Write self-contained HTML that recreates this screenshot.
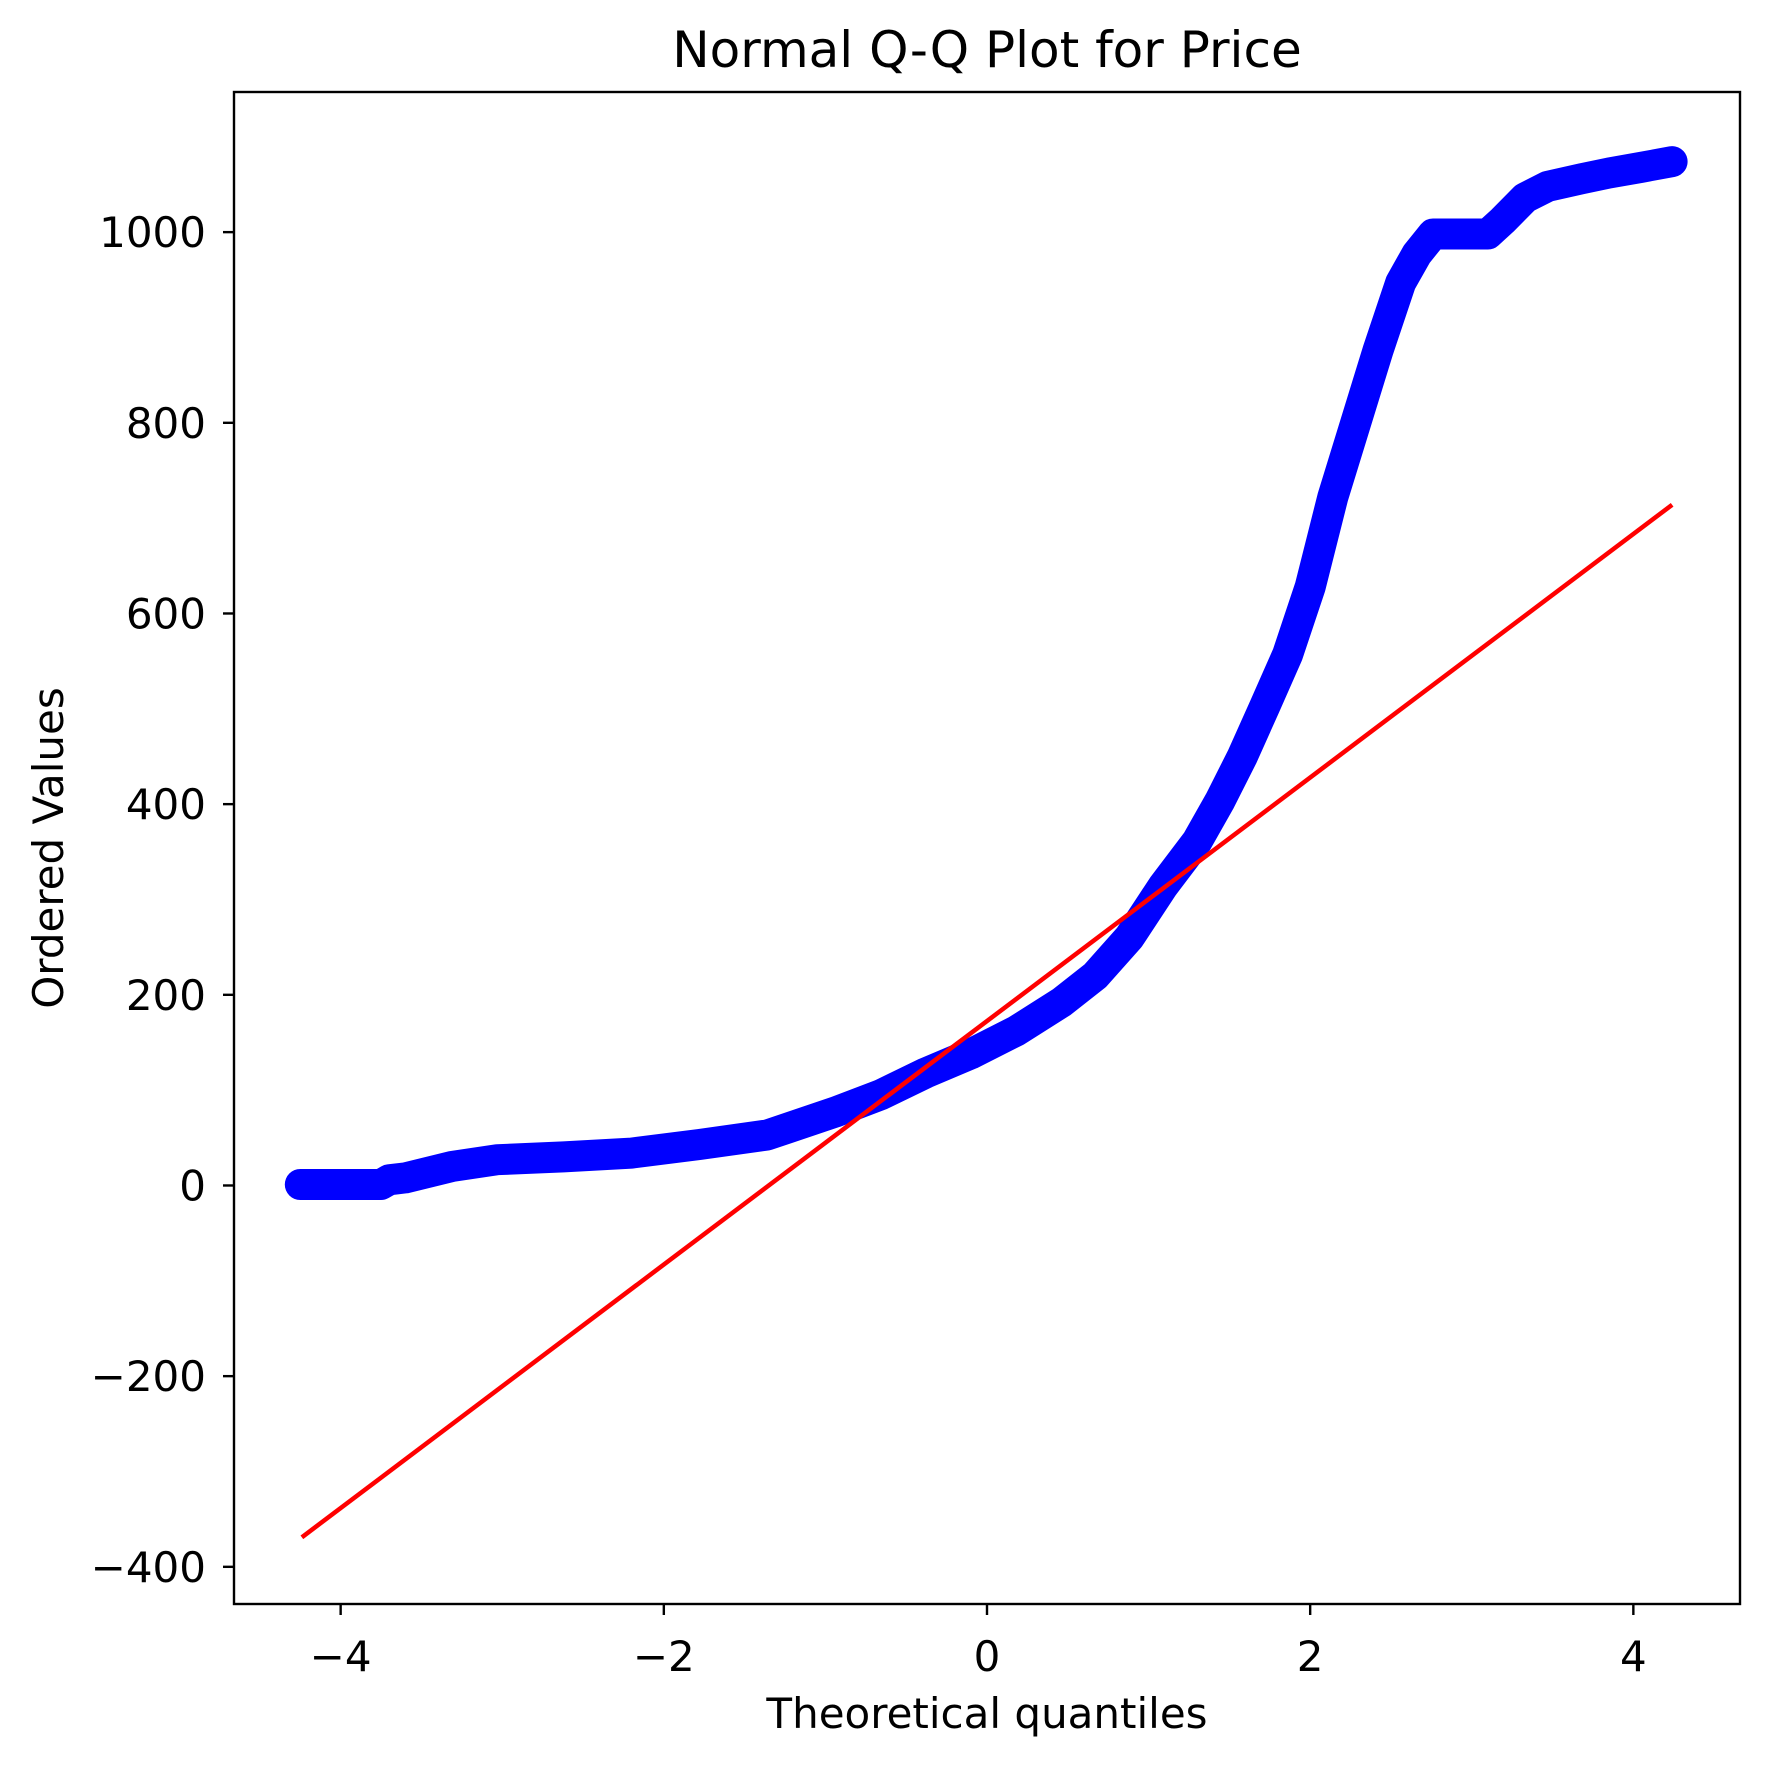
<!DOCTYPE html>
<html><head><meta charset="utf-8"><style>
html,body{margin:0;padding:0;background:#fff;}
svg{display:block;font-family:"DejaVu Sans","Liberation Sans",sans-serif;}
</style></head><body>
<svg id="chart" width="1770" height="1765" viewBox="0 0 1770 1765">
<rect x="0" y="0" width="1770" height="1765" fill="#fff"/>
<g id="plot"></g>
<rect x="234" y="92" width="1506" height="1512" fill="none" stroke="#000" stroke-width="2.4"/>
<g id="xticks"></g>
<g id="yticks"></g>
<text x="987" y="67" font-size="50" text-anchor="middle">Normal Q-Q Plot for Price</text>
<text x="987" y="1728" font-size="42" text-anchor="middle">Theoretical quantiles</text>
<text x="0" y="0" font-size="42" text-anchor="middle" transform="translate(63,848) rotate(-90)">Ordered Values</text>
</svg>
<script>
const quantiles = [-4.25,-4.05,-3.93,-3.84,-3.75,-3.70,-3.6,-3.31,-3.03,-2.62,-2.2,-1.78,-1.36,-0.94,-0.66,-0.38,-0.1,0.18,0.46,0.67,0.88,1.09,1.30,1.44,1.58,1.72,1.86,2.0,2.14,2.28,2.42,2.56,2.66,2.76,2.98,3.1,3.19,3.33,3.47,3.68,3.85,4.05,4.24];
const orderedValues = [1,1,1,1,1,6,8,20,27,30,34,43,53,77,95,118,138,162,192,220,260,314,361,403,450,503,557,628,722,799,876,947,977,998,998,998,1012,1036,1048,1056,1062,1068,1074];
const fitX = [-4.24, 4.24];
const fitY = [-369, 714];
const xTicks = [-4,-2,0,2,4];
const yTicks = [-400,-200,0,200,400,600,800,1000];
const XMIN=-4.66, XMAX=4.66, YMIN=-439, YMAX=1147;
const L=234, R=1740, T=92, B=1604;
function sx(v){return L+(v-XMIN)/(XMAX-XMIN)*(R-L);}
function sy(v){return B-(v-YMIN)/(YMAX-YMIN)*(B-T);}
const NS="http://www.w3.org/2000/svg";
function mk(tag,attrs){const e=document.createElementNS(NS,tag);for(const k in attrs)e.setAttribute(k,attrs[k]);return e;}
const plot=document.getElementById('plot');
let d='';
quantiles.forEach((q,i)=>{d+=(i?'L':'M')+sx(q).toFixed(1)+' '+sy(orderedValues[i]).toFixed(1);});
const band=mk('path',{d:d,fill:'none',stroke:'#0000ff','stroke-width':31,'stroke-linejoin':'round','stroke-linecap':'round'});


plot.appendChild(band);
quantiles.forEach((q,i)=>{
  const c=mk('circle',{cx:sx(q),cy:sy(orderedValues[i]),r:15,fill:'#0000ff'});
  
  
  plot.appendChild(c);
});
const line=mk('line',{x1:sx(fitX[0]),y1:sy(fitY[0]),x2:sx(fitX[1]),y2:sy(fitY[1]),stroke:'#ff0000','stroke-width':4.5});


plot.appendChild(line);
const xg=document.getElementById('xticks');
xTicks.forEach(t=>{
  const x=sx(t);
  const tk=mk('line',{x1:x,y1:B,x2:x,y2:B+11,stroke:'#000','stroke-width':2.4});
  
  
  xg.appendChild(tk);
  const tx=mk('text',{x:x,y:B+67,'font-size':42,'text-anchor':'middle'});
  tx.textContent=(t<0?'\u2212':'')+Math.abs(t);
  
  
  xg.appendChild(tx);
});
const yg=document.getElementById('yticks');
yTicks.forEach(t=>{
  const y=sy(t);
  const tk=mk('line',{x1:L-11,y1:y,x2:L,y2:y,stroke:'#000','stroke-width':2.4});
  
  
  yg.appendChild(tk);
  const tx=mk('text',{x:L-28,y:y+15,'font-size':42,'text-anchor':'end'});
  tx.textContent=(t<0?'\u2212':'')+Math.abs(t);
  
  
  yg.appendChild(tx);
});
</script>
</body></html>
